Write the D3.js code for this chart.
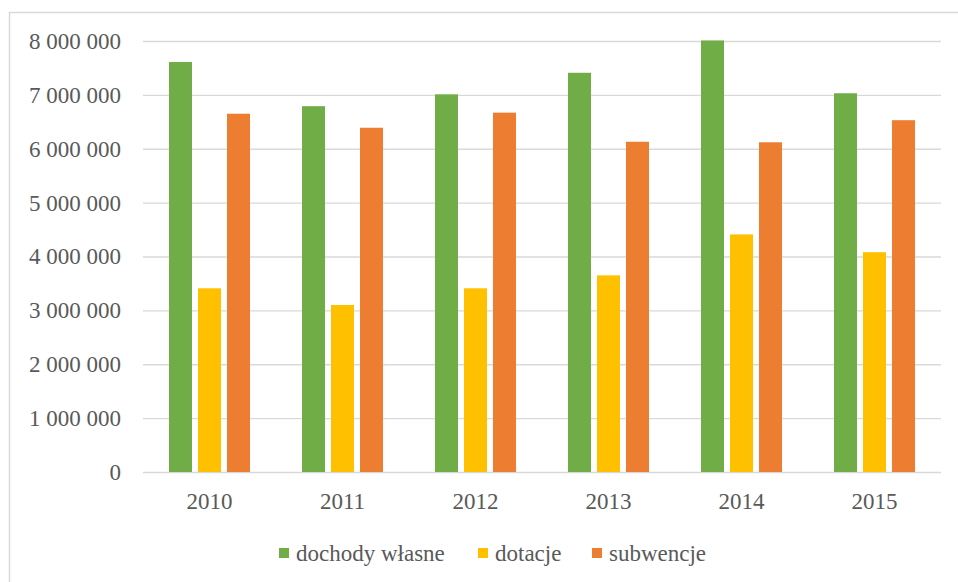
<!DOCTYPE html>
<html>
<head>
<meta charset="utf-8">
<script src="https://cdn.jsdelivr.net/npm/d3@7"></script>
<style>
  body { margin: 0; background: #fff; }
  text { font-family: "Liberation Serif", "Tinos", "Times New Roman", "DejaVu Serif", serif; fill: #595959; }
</style>
</head>
<body>
<div class="my_div"></div>
<script>
// Years on the x axis
var years = ["2010", "2011", "2012", "2013", "2014", "2015"];

// Series names and colours
var seriesNames = ["dochody własne", "dotacje", "subwencje"];
var seriesColors = ["#70ad47", "#ffc000", "#ed7d31"];

// Values
var dochodyWlasne = [7610000, 6790000, 7010000, 7410000, 8010000, 7030000];
var dotacje = [3410000, 3100000, 3410000, 3650000, 4410000, 4080000];
var subwencje = [6650000, 6390000, 6670000, 6130000, 6120000, 6530000];

var yTicks = [0, 1000000, 2000000, 3000000, 4000000, 5000000, 6000000, 7000000, 8000000];

var seriesValues = [dochodyWlasne, dotacje, subwencje];

var width = 958,
    height = 582,
    fontSize = "23px";

var svg = d3.select(".my_div")
    .append("svg")
    .attr("width", width)
    .attr("height", height);

// Outer chart border
svg.append("rect")
    .attr("x", 9.5)
    .attr("y", 12.5)
    .attr("width", width + 20)
    .attr("height", height + 20)
    .attr("fill", "none")
    .attr("stroke", "#d9d9d9")
    .attr("stroke-width", 1.5);

var xScale = d3.scaleBand()
    .domain(years)
    .range([143, 941]);

var inner = d3.scaleBand()
    .domain(seriesNames)
    .range([0, xScale.bandwidth()])
    .paddingInner(0.207)
    .paddingOuter(0.897);

var yScale = d3.scaleLinear()
    .domain([0, 8000000])
    .range([472, 41]);

var fmt = (v) => d3.format(",")(v).replace(/,/g, " ");

// Gridlines and y labels
var yAxis = svg.append("g")
    .attr("transform", "translate(143,0)")
    .call(d3.axisLeft(yScale)
        .tickValues(yTicks)
        .tickSize(-(941 - 143))
        .tickPadding(22)
        .tickFormat(fmt));

yAxis.select(".domain").remove();
yAxis.attr("font-family", null);
yAxis.selectAll(".tick line")
    .attr("stroke", "#d9d9d9")
    .attr("stroke-width", 1.3);
yAxis.selectAll(".tick text")
    .attr("font-size", fontSize)
    .attr("fill", "#595959");

// X axis labels
var xAxis = svg.append("g")
    .attr("transform", "translate(0,472)")
    .call(d3.axisBottom(xScale).tickSize(0).tickPadding(21));

xAxis.select(".domain").remove();
xAxis.attr("font-family", null);
xAxis.selectAll(".tick text")
    .attr("font-size", fontSize)
    .attr("fill", "#595959");

// Bars
var groups = svg.append("g")
    .selectAll("g")
    .data(years)
    .enter()
    .append("g")
    .attr("transform", (d) => "translate(" + xScale(d) + ",0)");

groups.selectAll("rect")
    .data((d, i) => seriesNames.map((s, j) => ({ name: s, value: seriesValues[j][i], color: seriesColors[j] })))
    .enter()
    .append("rect")
    .attr("x", (d) => inner(d.name))
    .attr("width", inner.bandwidth())
    .attr("y", (d) => yScale(d.value))
    .attr("height", (d) => yScale(0) - yScale(d.value))
    .attr("fill", (d) => d.color);

// Legend
var legendX = [279, 478, 592];
var legend = svg.append("g")
    .selectAll("g")
    .data(seriesNames)
    .enter()
    .append("g")
    .attr("transform", (d, i) => "translate(" + legendX[i] + ",548)");

legend.append("rect")
    .attr("width", 10)
    .attr("height", 10)
    .attr("fill", (d, i) => seriesColors[i]);

legend.append("text")
    .text((d) => d)
    .attr("x", 17)
    .attr("y", 5)
    .attr("dy", "0.35em")
    .attr("font-size", fontSize);
</script>
</body>
</html>
